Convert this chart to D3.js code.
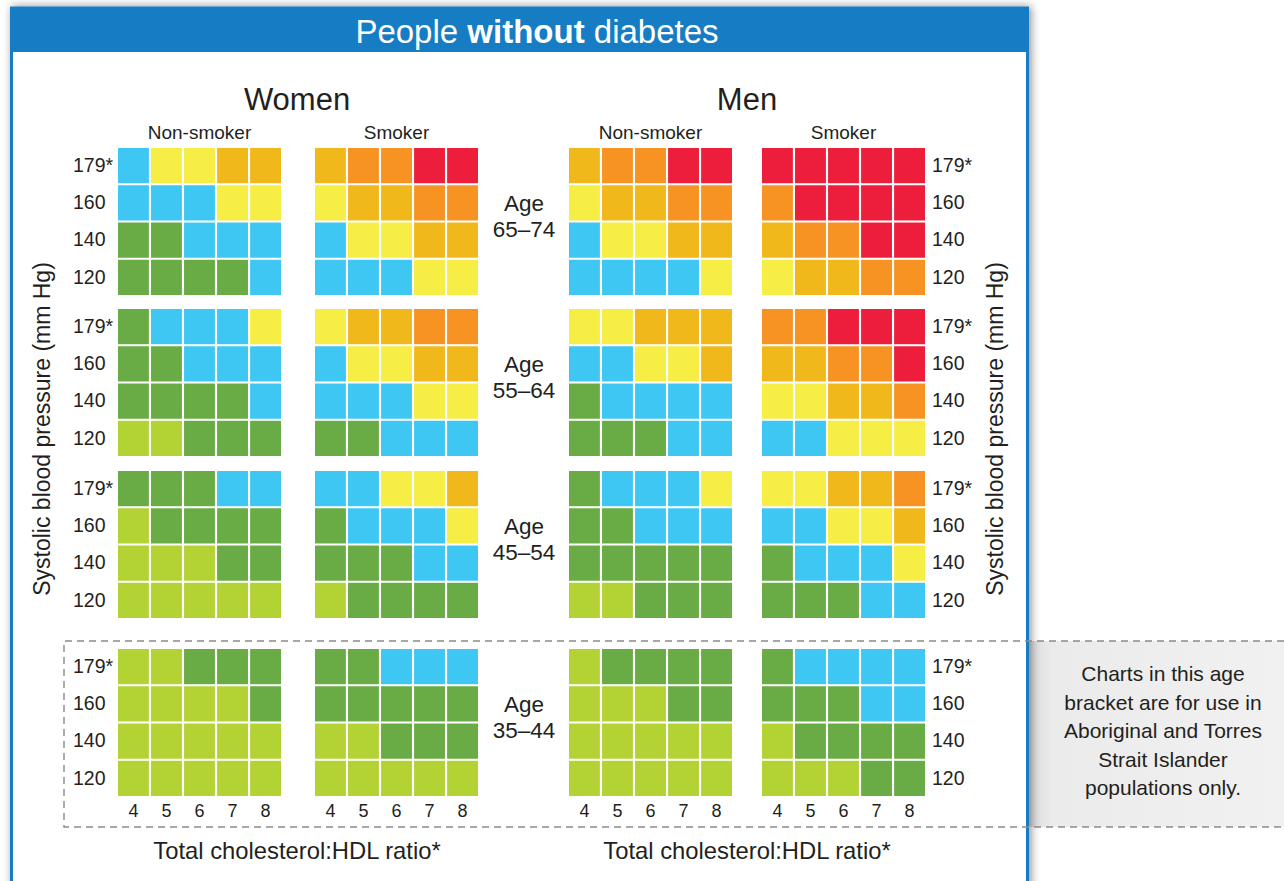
<!DOCTYPE html>
<html>
<head>
<meta charset="utf-8">
<script src="https://cdn.jsdelivr.net/npm/d3@7"></script>
<style>
body { margin: 0; background: #fff; }
text { font-family: "Liberation Sans", Arial, sans-serif; fill: #231f20; }
</style>
</head>
<body>
<div id="chart-area"></div>
<script>

// cholesterol ratio columns and blood pressure rows
var ratios = [4, 5, 6, 7, 8];
var pressures = ["179*", "160", "140", "120"];
var ageBands = ["65–74", "55–64", "45–54", "35–44"];

// risk levels 0..6 (light green -> red)
var riskColours = ["#b3d335", "#69ab44", "#3ec7f3", "#f6ed45", "#f0b81b", "#f79322", "#ec1e3b"];

// one 4x5 grid per age band, rows from 179 down to 120, columns ratio 4..8
var womenNonSmoker = [
	[[2,3,3,4,4],[2,2,2,3,3],[1,1,2,2,2],[1,1,1,1,2]],
	[[1,2,2,2,3],[1,1,2,2,2],[1,1,1,1,2],[0,0,1,1,1]],
	[[1,1,1,2,2],[0,1,1,1,1],[0,0,0,1,1],[0,0,0,0,0]],
	[[0,0,1,1,1],[0,0,0,0,1],[0,0,0,0,0],[0,0,0,0,0]]
];
var womenSmoker = [
	[[4,5,5,6,6],[3,4,4,5,5],[2,3,3,4,4],[2,2,2,3,3]],
	[[3,4,4,5,5],[2,3,3,4,4],[2,2,2,3,3],[1,1,2,2,2]],
	[[2,2,3,3,4],[1,2,2,2,3],[1,1,1,2,2],[0,1,1,1,1]],
	[[1,1,2,2,2],[1,1,1,1,1],[0,0,1,1,1],[0,0,0,0,0]]
];
var menNonSmoker = [
	[[4,5,5,6,6],[3,4,4,5,5],[2,3,3,4,4],[2,2,2,2,3]],
	[[3,3,4,4,4],[2,2,3,3,4],[1,2,2,2,2],[1,1,1,2,2]],
	[[1,2,2,2,3],[1,1,2,2,2],[1,1,1,1,1],[0,0,1,1,1]],
	[[0,1,1,1,1],[0,0,0,1,1],[0,0,0,0,0],[0,0,0,0,0]]
];
var menSmoker = [
	[[6,6,6,6,6],[5,6,6,6,6],[4,5,5,6,6],[3,4,4,5,5]],
	[[5,5,6,6,6],[4,4,5,5,6],[3,3,4,4,5],[2,2,3,3,3]],
	[[3,3,4,4,5],[2,2,3,3,4],[1,2,2,2,3],[1,1,1,2,2]],
	[[1,2,2,2,2],[1,1,1,2,2],[0,1,1,1,1],[0,0,0,1,1]]
];

var noteLines = ["Charts in this age", "bracket are for use in", "Aboriginal and Torres", "Strait Islander", "populations only."];

var width = 1284, height = 881;
var svg = d3.select("#chart-area").append("svg")
	.attr("width", width)
	.attr("height", height);

var defs = svg.append("defs");
var shadow = defs.append("filter").attr("id", "shadow")
	.attr("x", "-5%").attr("y", "-5%").attr("width", "110%").attr("height", "110%");
shadow.append("feDropShadow")
	.attr("dx", 2).attr("dy", 0)
	.attr("stdDeviation", 5)
	.attr("flood-color", "#000")
	.attr("flood-opacity", 0.45);

var grad = defs.append("linearGradient").attr("id", "noteGrad");
grad.append("stop").attr("offset", "0%").attr("stop-color", "#d4d4d4");
grad.append("stop").attr("offset", "12%").attr("stop-color", "#ebebeb");
grad.append("stop").attr("offset", "100%").attr("stop-color", "#f1f1f1");

// grey note panel behind the card edge
svg.append("rect")
	.attr("x", 1020).attr("y", 641)
	.attr("width", 264).attr("height", 186)
	.attr("fill", "url(#noteGrad)");

// card
var blue = "#167cc4";
svg.append("rect")
	.attr("x", 11.5).attr("y", 8)
	.attr("width", 1016).attr("height", 920)
	.attr("fill", "#fff")
	.attr("stroke", blue)
	.attr("stroke-width", 3)
	.attr("filter", "url(#shadow)");
svg.append("rect")
	.attr("x", 10).attr("y", 7)
	.attr("width", 1019).attr("height", 45)
	.attr("fill", blue);

var title = svg.append("text")
	.attr("x", 537).attr("y", 43)
	.attr("text-anchor", "middle")
	.attr("font-size", "33px")
	.style("fill", "#fff");
title.append("tspan").text("People ");
title.append("tspan").style("font-weight", 700).text("without");
title.append("tspan").text(" diabetes");

// scales
var gridW = 163, gridH = 147;
var x = d3.scaleBand().domain(ratios).range([0, gridW]).paddingInner(0.065);
var y = d3.scaleBand().domain(pressures).range([0, gridH]).paddingInner(0.055);

var panels = [
	{sex: "Women", smoke: "Non-smoker", left: 118, data: womenNonSmoker},
	{sex: "Women", smoke: "Smoker", left: 315, data: womenSmoker},
	{sex: "Men", smoke: "Non-smoker", left: 569, data: menNonSmoker},
	{sex: "Men", smoke: "Smoker", left: 762, data: menSmoker}
];
var bandTops = [148, 309, 471, 649];

panels.forEach(function(p) {
	svg.append("text")
		.attr("x", p.left + gridW / 2).attr("y", 139)
		.attr("text-anchor", "middle")
		.attr("font-size", "19px")
		.text(p.smoke);

	ageBands.forEach(function(age, i) {
		var cells = [];
		p.data[i].forEach(function(row, r) {
			row.forEach(function(v, c) {
				cells.push({ratio: ratios[c], bp: pressures[r], risk: v});
			});
		});
		var g = svg.append("g").attr("transform", "translate(" + p.left + "," + bandTops[i] + ")");
		g.selectAll("rect").data(cells).enter()
			.append("rect")
			.attr("x", function(d) { return x(d.ratio); })
			.attr("y", function(d) { return y(d.bp); })
			.attr("width", x.bandwidth())
			.attr("height", y.bandwidth())
			.attr("fill", function(d) { return riskColours[d.risk]; });
	});
});

// sex headings and x axis titles
[["Women", 297], ["Men", 747]].forEach(function(s) {
	svg.append("text")
		.attr("x", s[1]).attr("y", 110)
		.attr("text-anchor", "middle")
		.attr("font-size", "31px")
		.text(s[0]);
	svg.append("text")
		.attr("x", s[1]).attr("y", 859)
		.attr("text-anchor", "middle")
		.attr("font-size", "23.8px")
		.text("Total cholesterol:HDL ratio*");
});

// blood pressure axes, left and right
bandTops.forEach(function(top, i) {
	var la = svg.append("g")
		.attr("transform", "translate(118," + top + ")")
		.call(d3.axisLeft(y).tickSize(0).tickPadding(0));
	la.select(".domain").remove();
	la.selectAll("text")
		.attr("x", -45)
		.attr("text-anchor", "start")
		.attr("font-size", "19.5px");
	la.attr("font-family", null);

	var ra = svg.append("g")
		.attr("transform", "translate(924," + top + ")")
		.call(d3.axisRight(y).tickSize(0).tickPadding(8));
	ra.select(".domain").remove();
	ra.selectAll("text").attr("font-size", "19.5px");
	ra.attr("font-family", null);

	// age label
	var ageText = svg.append("text")
		.attr("x", 524).attr("y", top + 63)
		.attr("text-anchor", "middle")
		.attr("font-size", "22.5px");
	ageText.append("tspan").attr("x", 524).text("Age");
	ageText.append("tspan").attr("x", 524).attr("dy", 26).text(ageBands[i]);
});

// ratio axes under the bottom band
panels.forEach(function(p) {
	var ba = svg.append("g")
		.attr("transform", "translate(" + p.left + "," + (bandTops[3] + gridH) + ")")
		.call(d3.axisBottom(x).tickSize(0).tickPadding(8));
	ba.select(".domain").remove();
	ba.selectAll("text").attr("font-size", "18px");
	ba.attr("font-family", null);
});

// y axis titles
[42, 995].forEach(function(cx) {
	svg.append("text")
		.attr("transform", "translate(" + cx + ",429) rotate(-90)")
		.attr("text-anchor", "middle")
		.attr("dominant-baseline", "central")
		.attr("font-size", "23px")
		.text("Systolic blood pressure (mm Hg)");
});

// dashed box around the 35-44 bracket
svg.append("path")
	.attr("d", "M1284,641 H64 V827 H1284")
	.attr("fill", "none")
	.attr("stroke", "#8a8a8a")
	.attr("stroke-width", 1.4)
	.attr("stroke-dasharray", "7,5");

svg.append("text")
	.attr("text-anchor", "middle")
	.attr("font-size", "21px")
	.selectAll("tspan").data(noteLines).enter()
	.append("tspan")
	.attr("x", 1163)
	.attr("y", function(d, i) { return 681 + i * 28.6; })
	.text(function(d) { return d; });

</script>
</body>
</html>
